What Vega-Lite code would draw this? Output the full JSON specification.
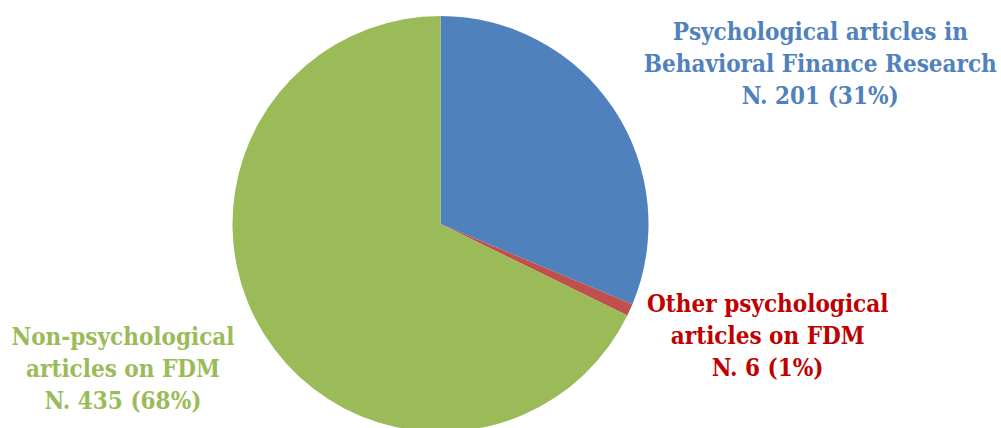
{
  "$schema": "https://vega.github.io/schema/vega-lite/v6.json",
  "autosize": "none",
  "width": 881,
  "height": 416,
  "padding": {"left": 0, "top": 16, "right": 120, "bottom": 0},
  "background": "white",
  "data": {
    "values": [
      {"idx": 1, "category": "Psychological articles in Behavioral Finance Research", "n": 201, "label": ["Psychological articles in", "Behavioral Finance Research", "N. 201 (31%)"]},
      {"idx": 2, "category": "Other psychological articles on FDM", "n": 6, "label": ["Other psychological", "articles on FDM", "N. 6 (1%)"]},
      {"idx": 3, "category": "Non-psychological articles on FDM", "n": 435, "label": ["Non-psychological", "articles on FDM", "N. 435 (68%)"]}
    ]
  },
  "encoding": {
    "theta": {"field": "n", "type": "quantitative", "stack": true},
    "order": {"field": "idx", "type": "quantitative"}
  },
  "layer": [
    {
      "mark": {"type": "arc", "outerRadius": 208},
      "encoding": {
        "color": {
          "field": "category",
          "type": "nominal",
          "scale": {
            "domain": ["Psychological articles in Behavioral Finance Research", "Other psychological articles on FDM", "Non-psychological articles on FDM"],
            "range": ["#4F81BD", "#C0504D", "#9BBB59"]
          },
          "legend": null
        }
      }
    },
    {
      "mark": {"type": "text", "radius": 300, "dx": 130, "dy": -25, "font": "DejaVu Serif Condensed", "fontWeight": "bold", "fontSize": 24, "lineHeight": 32, "align": "center", "baseline": "middle", "color": "#4F81BD"},
      "encoding": {"text": {"condition": {"test": "datum.idx === 1", "field": "label"}, "value": ""}}
    },
    {
      "mark": {"type": "text", "radius": 300, "dx": 54, "dy": -43, "font": "DejaVu Serif Condensed", "fontWeight": "bold", "fontSize": 24, "lineHeight": 32, "align": "center", "baseline": "middle", "color": "#C00000"},
      "encoding": {"text": {"condition": {"test": "datum.idx === 2", "field": "label"}, "value": ""}}
    },
    {
      "mark": {"type": "text", "radius": 300, "dx": -63, "dy": -45, "font": "DejaVu Serif Condensed", "fontWeight": "bold", "fontSize": 24, "lineHeight": 32, "align": "center", "baseline": "middle", "color": "#9BBB59"},
      "encoding": {"text": {"condition": {"test": "datum.idx === 3", "field": "label"}, "value": ""}}
    }
  ]
}
